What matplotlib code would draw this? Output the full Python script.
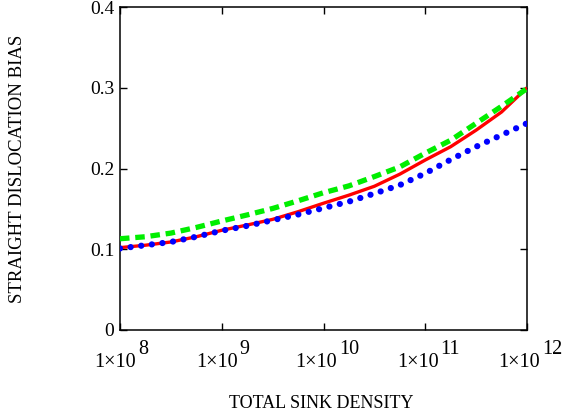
import numpy as np
import matplotlib
matplotlib.use("Agg")
import matplotlib.pyplot as plt

# ---- data ----
log_density = [8.0, 8.25, 8.5, 8.75, 9.0, 9.25, 9.5, 9.75, 10.0,
               10.25, 10.5, 10.75, 11.0, 11.25, 11.5, 11.75, 12.0]
red_bias = [0.102, 0.105, 0.109, 0.1155, 0.1235, 0.130, 0.137, 0.1465, 0.157,
            0.167, 0.178, 0.193, 0.2105, 0.227, 0.2475, 0.270, 0.300]
green_bias = [0.113, 0.1155, 0.120, 0.127, 0.135, 0.1425, 0.1505, 0.160, 0.170,
              0.1785, 0.190, 0.202, 0.219, 0.235, 0.256, 0.277, 0.299]
blue_bias = [0.101, 0.105, 0.109, 0.1155, 0.123, 0.129, 0.136, 0.143, 0.151,
             0.159, 0.169, 0.1795, 0.194, 0.211, 0.227, 0.2415, 0.256]
x_tick_exponents = [8, 9, 10, 11, 12]
y_ticks = [0.0, 0.1, 0.2, 0.3, 0.4]
y_tick_labels = ["0", "0.1", "0.2", "0.3", "0.4"]
x_label = "TOTAL SINK DENSITY"
y_label = "STRAIGHT DISLOCATION BIAS"

plt.rcParams['font.family'] = ['Liberation Serif', 'DejaVu Serif']

fig = plt.figure(figsize=(5.63, 4.18), dpi=100)
ax = fig.add_axes([120/563, 1-330/418, 407/563, 323/418])

x = 10.0 ** np.array(log_density)

ax.plot(x, red_bias, color='#ff0000', lw=2.4, solid_capstyle='butt', zorder=3)
ax.plot(x, green_bias, color='#00ee00', lw=3.8, dashes=(1.8, 1.1),
        dash_capstyle='butt', zorder=4)
ax.plot(x, blue_bias, color='#0000ff', lw=4.5, dashes=(0.01, 1.7),
        dash_capstyle='round', zorder=5)

ax.set_xscale('log')
ax.set_xlim(1e8, 1e12)
ax.set_ylim(0, 0.4)

ax.set_xticks([10.0 ** e for e in x_tick_exponents])
ax.set_xticklabels([''] * len(x_tick_exponents))
ax.xaxis.set_minor_locator(matplotlib.ticker.NullLocator())
ax.set_yticks(y_ticks)
ax.set_yticklabels(y_tick_labels, fontsize=14)

ax.tick_params(direction='in', top=True, right=True, length=5, width=1,
               colors='black', pad=4)
for s in ax.spines.values():
    s.set_linewidth(1.1)
    s.set_color('black')

# x tick labels: "1x10" with raised full-size exponent
for e in x_tick_exponents:
    dx = 11.5 if e < 10 else 9.5
    ax.annotate('1\u00d710', xy=(10.0 ** e, 0), xycoords=('data', 'axes fraction'),
                xytext=(dx, -26.5), textcoords='offset points',
                ha='right', va='baseline', fontsize=14.5, annotation_clip=False)
    ax.annotate(str(e), xy=(10.0 ** e, 0), xycoords=('data', 'axes fraction'),
                xytext=(dx + 1.5, -17.5), textcoords='offset points',
                ha='left', va='baseline', fontsize=14.5, annotation_clip=False)

ax.set_xlabel(x_label, fontsize=13)
ax.xaxis.set_label_coords(0.495, -0.2)
ax.set_ylabel(y_label, fontsize=13.5)
ax.yaxis.set_label_coords(-0.232, 0.5)

fig.savefig('out.png', dpi=100)
